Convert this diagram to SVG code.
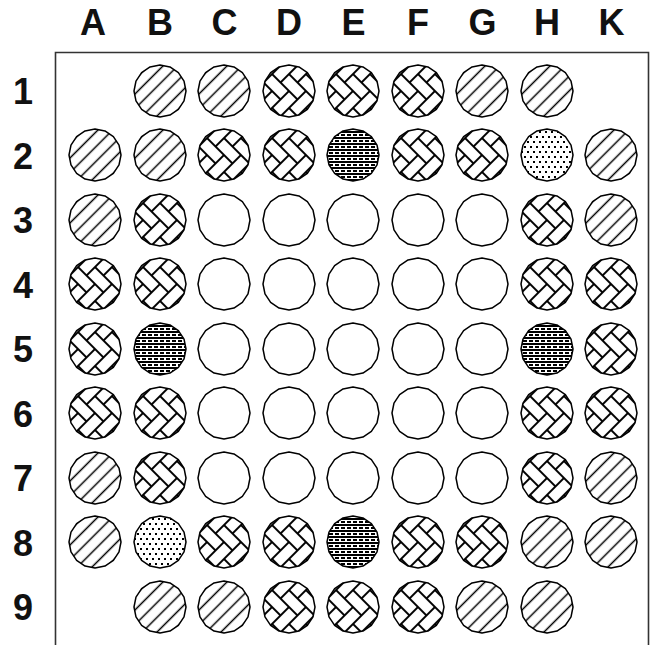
<svg xmlns="http://www.w3.org/2000/svg" xmlns:xlink="http://www.w3.org/1999/xlink" width="650" height="645" viewBox="0 0 650 645">
<style>
.lbl{font-family:"Liberation Sans",Arial,sans-serif;font-weight:bold;font-size:36px;fill:#111;text-anchor:middle}
.e{fill:#fff}
.d{fill:url(#diag)}
.h{fill:url(#herr)}
.s{fill:url(#hor)}
.o{fill:url(#dots)}
.crisp{shape-rendering:crispEdges}
</style>
<defs>
<polygon id="c" stroke="#000" stroke-width="1.5" stroke-linejoin="round" points="26,0 24.02,9.95 18.38,18.38 9.95,24.02 0,26 -9.95,24.02 -18.38,18.38 -24.02,9.95 -26,0 -24.02,-9.95 -18.38,-18.38 -9.95,-24.02 0,-26 9.95,-24.02 18.38,-18.38 24.02,-9.95"/>
<pattern id="diag" patternUnits="userSpaceOnUse" width="10.4" height="10.4" patternTransform="rotate(45)">
<rect width="10.4" height="10.4" fill="#fff"/>
<line x1="5.2" y1="0" x2="5.2" y2="10.4" stroke="#000" stroke-width="1.5"/>
</pattern>
<pattern id="herr" patternUnits="userSpaceOnUse" width="48" height="48" patternTransform="rotate(45)">
<rect width="48" height="48" fill="#fff"/>
<g fill="none" stroke="#000" stroke-width="2">
<rect x="0" y="0" width="12" height="24"/>
<rect x="12" y="12" width="24" height="12"/>
<rect x="12" y="36" width="12" height="24"/>
<rect x="12" y="-12" width="12" height="24"/>
<rect x="24" y="0" width="24" height="12"/>
<rect x="24" y="24" width="12" height="24"/>
<rect x="36" y="36" width="24" height="12"/>
<rect x="-12" y="36" width="24" height="12"/>
<rect x="36" y="12" width="12" height="24"/>
<rect x="0" y="24" width="24" height="12"/>
</g>
</pattern>
<pattern id="hor" patternUnits="userSpaceOnUse" width="6" height="6" x="0" y="0">
<g class="crisp">
<rect width="6" height="6" fill="#fff"/>
<rect x="0" y="0" width="6" height="2" fill="#000"/>
<rect x="0" y="3" width="4" height="2" fill="#000"/>
</g>
</pattern>
<pattern id="dots" patternUnits="userSpaceOnUse" width="6" height="10" x="0" y="0">
<g class="crisp">
<rect width="6" height="10" fill="#fff"/>
<rect x="1" y="1" width="2" height="2" fill="#000"/>
<rect x="4" y="6" width="2" height="2" fill="#000"/>
</g>
</pattern>
</defs>
<rect width="650" height="645" fill="#fff"/>
<g id="frame"><path d="M55.5,645 V52.5 H648.5 V645" fill="none" stroke="#333" stroke-width="1.6"/></g>
<g id="labels">
<text class="lbl" x="93" y="35">A</text>
<text class="lbl" x="160" y="35">B</text>
<text class="lbl" x="224.5" y="35">C</text>
<text class="lbl" x="289" y="35">D</text>
<text class="lbl" x="353.5" y="35">E</text>
<text class="lbl" x="418" y="35">F</text>
<text class="lbl" x="482.5" y="35">G</text>
<text class="lbl" x="547" y="35">H</text>
<text class="lbl" x="611.5" y="35">K</text>
<text class="lbl" x="23" y="104">1</text>
<text class="lbl" x="23" y="168.5">2</text>
<text class="lbl" x="23" y="233">3</text>
<text class="lbl" x="23" y="297.5">4</text>
<text class="lbl" x="23" y="362">5</text>
<text class="lbl" x="23" y="426.5">6</text>
<text class="lbl" x="23" y="491">7</text>
<text class="lbl" x="23" y="555.5">8</text>
<text class="lbl" x="23" y="620">9</text>
</g>
<g id="connectors"/>
<g id="B1" transform="translate(160,91)"><use href="#c" class="d"/></g>
<g id="C1" transform="translate(224,91)"><use href="#c" class="d"/></g>
<g id="D1" transform="translate(289,91)"><use href="#c" class="h"/></g>
<g id="E1" transform="translate(353,91)"><use href="#c" class="h"/></g>
<g id="F1" transform="translate(418,91)"><use href="#c" class="h"/></g>
<g id="G1" transform="translate(482,91)"><use href="#c" class="d"/></g>
<g id="H1" transform="translate(547,91)"><use href="#c" class="d"/></g>
<g id="A2" transform="translate(95,155)"><use href="#c" class="d"/></g>
<g id="B2" transform="translate(160,155)"><use href="#c" class="d"/></g>
<g id="C2" transform="translate(224,155)"><use href="#c" class="h"/></g>
<g id="D2" transform="translate(289,155)"><use href="#c" class="h"/></g>
<g id="E2" transform="translate(353,155)"><use href="#c" class="s"/></g>
<g id="F2" transform="translate(418,155)"><use href="#c" class="h"/></g>
<g id="G2" transform="translate(482,155)"><use href="#c" class="h"/></g>
<g id="H2" transform="translate(547,155)"><use href="#c" class="o"/></g>
<g id="K2" transform="translate(611,155)"><use href="#c" class="d"/></g>
<g id="A3" transform="translate(95,220)"><use href="#c" class="d"/></g>
<g id="B3" transform="translate(160,220)"><use href="#c" class="h"/></g>
<g id="C3" transform="translate(224,220)"><use href="#c" class="e"/></g>
<g id="D3" transform="translate(289,220)"><use href="#c" class="e"/></g>
<g id="E3" transform="translate(353,220)"><use href="#c" class="e"/></g>
<g id="F3" transform="translate(418,220)"><use href="#c" class="e"/></g>
<g id="G3" transform="translate(482,220)"><use href="#c" class="e"/></g>
<g id="H3" transform="translate(547,220)"><use href="#c" class="h"/></g>
<g id="K3" transform="translate(611,220)"><use href="#c" class="d"/></g>
<g id="A4" transform="translate(95,284)"><use href="#c" class="h"/></g>
<g id="B4" transform="translate(160,284)"><use href="#c" class="h"/></g>
<g id="C4" transform="translate(224,284)"><use href="#c" class="e"/></g>
<g id="D4" transform="translate(289,284)"><use href="#c" class="e"/></g>
<g id="E4" transform="translate(353,284)"><use href="#c" class="e"/></g>
<g id="F4" transform="translate(418,284)"><use href="#c" class="e"/></g>
<g id="G4" transform="translate(482,284)"><use href="#c" class="e"/></g>
<g id="H4" transform="translate(547,284)"><use href="#c" class="h"/></g>
<g id="K4" transform="translate(611,284)"><use href="#c" class="h"/></g>
<g id="A5" transform="translate(95,349)"><use href="#c" class="h"/></g>
<g id="B5" transform="translate(160,349)"><use href="#c" class="s"/></g>
<g id="C5" transform="translate(224,349)"><use href="#c" class="e"/></g>
<g id="D5" transform="translate(289,349)"><use href="#c" class="e"/></g>
<g id="E5" transform="translate(353,349)"><use href="#c" class="e"/></g>
<g id="F5" transform="translate(418,349)"><use href="#c" class="e"/></g>
<g id="G5" transform="translate(482,349)"><use href="#c" class="e"/></g>
<g id="H5" transform="translate(547,349)"><use href="#c" class="s"/></g>
<g id="K5" transform="translate(611,349)"><use href="#c" class="h"/></g>
<g id="A6" transform="translate(95,413)"><use href="#c" class="h"/></g>
<g id="B6" transform="translate(160,413)"><use href="#c" class="h"/></g>
<g id="C6" transform="translate(224,413)"><use href="#c" class="e"/></g>
<g id="D6" transform="translate(289,413)"><use href="#c" class="e"/></g>
<g id="E6" transform="translate(353,413)"><use href="#c" class="e"/></g>
<g id="F6" transform="translate(418,413)"><use href="#c" class="e"/></g>
<g id="G6" transform="translate(482,413)"><use href="#c" class="e"/></g>
<g id="H6" transform="translate(547,413)"><use href="#c" class="h"/></g>
<g id="K6" transform="translate(611,413)"><use href="#c" class="h"/></g>
<g id="A7" transform="translate(95,478)"><use href="#c" class="d"/></g>
<g id="B7" transform="translate(160,478)"><use href="#c" class="h"/></g>
<g id="C7" transform="translate(224,478)"><use href="#c" class="e"/></g>
<g id="D7" transform="translate(289,478)"><use href="#c" class="e"/></g>
<g id="E7" transform="translate(353,478)"><use href="#c" class="e"/></g>
<g id="F7" transform="translate(418,478)"><use href="#c" class="e"/></g>
<g id="G7" transform="translate(482,478)"><use href="#c" class="e"/></g>
<g id="H7" transform="translate(547,478)"><use href="#c" class="h"/></g>
<g id="K7" transform="translate(611,478)"><use href="#c" class="d"/></g>
<g id="A8" transform="translate(95,542)"><use href="#c" class="d"/></g>
<g id="B8" transform="translate(160,542)"><use href="#c" class="o"/></g>
<g id="C8" transform="translate(224,542)"><use href="#c" class="h"/></g>
<g id="D8" transform="translate(289,542)"><use href="#c" class="h"/></g>
<g id="E8" transform="translate(353,542)"><use href="#c" class="s"/></g>
<g id="F8" transform="translate(418,542)"><use href="#c" class="h"/></g>
<g id="G8" transform="translate(482,542)"><use href="#c" class="h"/></g>
<g id="H8" transform="translate(547,542)"><use href="#c" class="d"/></g>
<g id="K8" transform="translate(611,542)"><use href="#c" class="d"/></g>
<g id="B9" transform="translate(160,607)"><use href="#c" class="d"/></g>
<g id="C9" transform="translate(224,607)"><use href="#c" class="d"/></g>
<g id="D9" transform="translate(289,607)"><use href="#c" class="h"/></g>
<g id="E9" transform="translate(353,607)"><use href="#c" class="h"/></g>
<g id="F9" transform="translate(418,607)"><use href="#c" class="h"/></g>
<g id="G9" transform="translate(482,607)"><use href="#c" class="d"/></g>
<g id="H9" transform="translate(547,607)"><use href="#c" class="d"/></g>
</svg>
